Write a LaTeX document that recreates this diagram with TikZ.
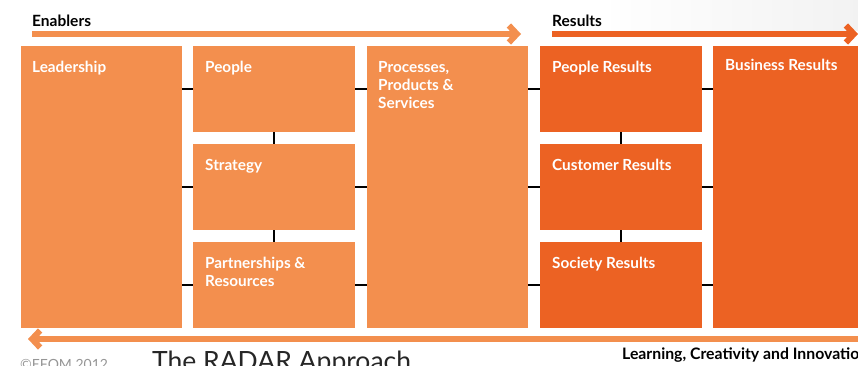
\documentclass[tikz,border=0pt]{standalone}
\usepackage{fontspec}
\setmainfont{Lato}
\usetikzlibrary{arrows.meta,calc}
\definecolor{lightor}{RGB}{243,143,78}
\definecolor{darkor}{RGB}{236,98,35}
\definecolor{gtext}{RGB}{150,150,150}
\tikzset{
  boxl/.style={fill=lightor, draw=none, anchor=north west, inner sep=0pt},
  boxd/.style={fill=darkor, draw=none, anchor=north west, inner sep=0pt},
  lbl/.style={text=white, anchor=north west, inner sep=0pt, align=left,
    font=\fontsize{15.3}{18}\selectfont\bfseries},
  head/.style={text=black, anchor=north west, inner sep=0pt,
    font=\fontsize{15.5}{18}\selectfont\bfseries},
  conn/.style={draw=black, line width=2pt},
  bigarrow/.style={line width=6pt, -{Straight Barb[length=8pt,width=17pt]}}
}
\begin{document}
\begin{tikzpicture}[x=1pt,y=-1pt]
\useasboundingbox (0,0) rectangle (858,365);
\clip (0,0) rectangle (858,365);
% subtle grey background top-right
\shade[left color=white, right color=gray!10, draw=none] (600,0) rectangle (858,30);
% boxes
\node[boxl, minimum width=161pt, minimum height=282pt] (lead) at (21,46) {};
\node[boxl, minimum width=162pt, minimum height=86pt] (peo) at (193,46) {};
\node[boxl, minimum width=162pt, minimum height=86pt] (str) at (193,144) {};
\node[boxl, minimum width=162pt, minimum height=86pt] (part) at (193,242) {};
\node[boxl, minimum width=161pt, minimum height=282pt] (proc) at (367,46) {};
\node[boxd, minimum width=162pt, minimum height=86pt] (pr) at (540,46) {};
\node[boxd, minimum width=162pt, minimum height=86pt] (cr) at (540,144) {};
\node[boxd, minimum width=162pt, minimum height=86pt] (sr) at (540,242) {};
\node[boxd, minimum width=160pt, minimum height=282pt] (br) at (713,46) {};
% labels
\node[lbl] (tlead) at ($(lead.north west)+(11,15)$) {Leadership};
\node[lbl] (tpeo) at ($(peo.north west)+(12,15)$) {People};
\node[lbl] (tstr) at ($(str.north west)+(12,15)$) {Strategy};
\node[lbl] (tpart) at ($(part.north west)+(12,15)$) {Partnerships \&\\Resources};
\node[lbl] (tproc) at ($(proc.north west)+(11,15)$) {Processes,\\Products \&\\Services};
\node[lbl] (tpr) at ($(pr.north west)+(12,15)$) {People Results};
\node[lbl] (tcr) at ($(cr.north west)+(12,15)$) {Customer Results};
\node[lbl] (tsr) at ($(sr.north west)+(12,15)$) {Society Results};
\node[lbl] (tbr) at ($(br.north west)+(12,13)$) {Business Results};
% connectors
\draw[conn] (lead.east |- peo.west) -- (peo.west);
\draw[conn] (lead.east |- str.west) -- (str.west);
\draw[conn] (lead.east |- part.west) -- (part.west);
\draw[conn] (peo.east) -- (proc.west |- peo.east);
\draw[conn] (str.east) -- (proc.west |- str.east);
\draw[conn] (part.east) -- (proc.west |- part.east);
\draw[conn] (peo.south) -- (str.north);
\draw[conn] (str.south) -- (part.north);
\draw[conn] (proc.east |- pr.west) -- (pr.west);
\draw[conn] (proc.east |- cr.west) -- (cr.west);
\draw[conn] (proc.east |- sr.west) -- (sr.west);
\draw[conn] (pr.east) -- (br.west |- pr.east);
\draw[conn] (cr.east) -- (br.west |- cr.east);
\draw[conn] (sr.east) -- (br.west |- sr.east);
\draw[conn] (pr.south) -- (cr.north);
\draw[conn] (cr.south) -- (sr.north);
% headings and arrows
\node[head] (enab) at (32,15) {Enablers};
\node[head] (res) at (552,15) {Results};
\coordinate (ea0) at (32,34);
\coordinate (ea1) at (521,34);
\coordinate (ra0) at (552,34);
\coordinate (ra1) at (858,34);
\draw[bigarrow, draw=lightor] (ea0) -- (ea1);
\draw[bigarrow, draw=darkor] (ra0) -- (ra1);
\coordinate (ba0) at (860,339);
\coordinate (ba1) at (28,339);
\draw[bigarrow, draw=lightor] (ba0) -- (ba1);
% bottom texts
\node[head, font=\fontsize{15.8}{18}\selectfont\bfseries] (lci) at (622,348) {Learning, Creativity and Innovation};
\node[anchor=north west, inner sep=0pt, text=gtext, font=\fontsize{14}{16}\selectfont] (efqm) at (20,359) {\textcopyright EFQM 2012};
\node[anchor=north west, inner sep=0pt, text=black!85, font=\fontsize{26.5}{30}\selectfont] (radar) at (152,351) {The RADAR Approach};
\end{tikzpicture}
\end{document}
